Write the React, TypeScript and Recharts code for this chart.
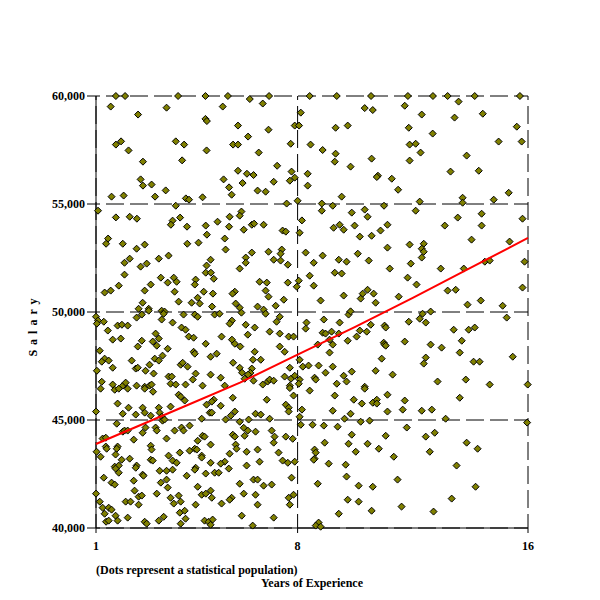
import React from 'react';
import { ScatterChart, Scatter, XAxis, YAxis, CartesianGrid, Label } from 'recharts';

type Pt = [number, number];

// [years of experience, salary]
const juniorStaff: Pt[] = [
  [1.69, 60000], [2.01, 60000], [3.85, 60000], [4.8, 60000], [5.58, 60000],
  [1.51, 59510], [3.45, 59460], [5.4, 59510], [2.46, 59140], [4.8, 58940], [4.85, 58840],
  [1.69, 57750], [1.87, 57900], [3.77, 57900], [4.06, 57750], [5.76, 57750], [2.13, 57480], [4.84, 57480],
  [2.63, 56960], [3.99, 57020], [2.55, 56140], [2.63, 55850], [2.93, 55900], [5.43, 56140], [5.62, 55770], [3.42, 55630],
  [1.54, 55340], [1.96, 55390], [3.05, 55340], [4.12, 55260], [4.23, 55200], [4.7, 55310], [5.71, 55430],
  [1.07, 54690], [3.77, 54920], [1.69, 54380], [2.17, 54410], [2.42, 54320], [3.66, 54230], [3.6, 54040],
  [3.92, 54370], [4.16, 53950], [4.81, 54000], [5.22, 54180], [5.64, 54410], [5.62, 53950], [4.85, 53580],
  [1.42, 53400], [1.35, 53160], [1.93, 53160], [2.69, 53120], [4.17, 53160], [4.56, 53210], [5.47, 53400],
  [2.41, 52930], [5.5, 52890], [3.52, 52610], [2.17, 52470], [1.99, 52280], [3.18, 52470], [2.76, 52240],
  [2.55, 52100], [4.98, 52420], [4.84, 52150],
  [1.99, 51730], [3.25, 51590], [3.49, 51360], [3.7, 51590], [3.8, 51400], [4.46, 51500], [4.43, 51270],
  [4.81, 51820], [4.99, 51820], [5.09, 51540],
  [2.9, 51270], [1.79, 51220], [1.3, 50900], [1.51, 50990], [2.69, 50990], [3.73, 50940], [4.74, 50940],
  [5.06, 50850], [5.82, 50940], [5.74, 50850],
  [2.62, 50430], [3.87, 50480], [4.32, 50430], [4.53, 50660], [4.6, 50390], [5.03, 50250], [5.85, 50390],
  [2.48, 50150], [2.83, 50150], [2.83, 50060], [2.59, 49880], [2.41, 49740], [3.28, 50060], [3.38, 50020],
  [4.04, 49880], [4.43, 49880], [4.53, 49780], [5.12, 49880], [5.29, 49920],
  [5.72, 49600], [5.64, 49460], [1.0, 49780], [1.07, 49600], [1.03, 49460], [1.27, 49550], [1.41, 49140],
  [1.75, 49370], [1.9, 49410], [2.1, 49370],
  [3.35, 49920], [3.28, 49650], [3.66, 49510], [3.97, 49280], [4.11, 49180], [4.22, 48860], [4.39, 48810],
  [3.07, 49000], [3.18, 48770],
  [1.58, 48720], [1.86, 48770], [2.59, 48670], [2.97, 48630], [3.11, 48440], [2.45, 48400], [3.49, 48300],
  [4.81, 48530], [5.36, 48860], [5.72, 48720], [5.82, 48530],
  [1.13, 48210], [4.39, 48160], [4.43, 48070], [4.98, 47930], [5.19, 48070], [3.31, 47980],
  [1.3, 47840], [1.2, 47700], [1.44, 47750], [1.58, 47420], [2.24, 47750], [3.04, 47840], [3.18, 47750],
  [2.86, 47560], [2.38, 47380], [2.45, 47420], [3.94, 47560], [4.01, 47650], [4.18, 47470], [2.72, 47280],
  [3.0, 47150], [3.52, 47010], [3.63, 47010], [4.46, 47150], [4.98, 47100], [5.33, 46960], [5.76, 47650],
  [1.03, 47280], [1.2, 46770], [1.58, 46640], [1.93, 46590], [2.03, 46730], [2.41, 46590], [2.69, 46540],
  [2.86, 46590], [2.93, 46640], [3.59, 46680], [3.77, 46640], [4.11, 46640], [4.36, 46870], [4.7, 46590],
  [5.47, 46590],
  [1.16, 46450], [1.65, 46400], [1.79, 46450], [2.1, 46450], [2.69, 46450], [2.98, 46310],
  [3.87, 46170], [3.94, 46080], [4.08, 45900], [5.09, 45940], [5.02, 45850], [4.84, 45710], [5.75, 46030],
  [1.75, 45760], [2.13, 45570], [1.93, 45290], [2.38, 45250], [2.62, 45570], [2.69, 45340], [2.9, 45200],
  [3.18, 45570], [3.21, 45340], [3.28, 45150], [3.59, 45620], [4.95, 45340], [5.02, 45340], [5.33, 45660],
  [5.82, 45390], [1.0, 45390], [4.67, 45060], [5.5, 45020], [5.68, 45200], [3.31, 44970], [3.38, 45020],
  [1.23, 44140], [1.34, 44180], [1.72, 44830], [1.93, 44460], [1.99, 44510], [2.1, 44510], [2.31, 44090],
  [2.62, 44410], [2.72, 44650], [3.07, 44650], [3.11, 44510], [3.45, 44140], [3.73, 44510], [3.97, 44650],
  [4.04, 44510], [4.25, 44740], [4.53, 44040], [4.7, 44270], [4.77, 44230], [4.98, 43860], [5.75, 44320],
  [5.82, 44230], [5.85, 43860], [5.88, 43670],
  [1.02, 43530], [1.16, 43300], [1.34, 43770], [1.37, 43670], [1.75, 43770], [1.72, 43670], [1.68, 43400],
  [1.89, 43160], [2.17, 43210], [2.9, 43810], [2.93, 43630], [2.9, 43160], [2.97, 43120], [3.52, 43350],
  [3.66, 43120], [3.8, 43020], [3.91, 43490], [4.25, 43580], [4.43, 43670], [4.5, 43630], [4.67, 43350],
  [4.67, 43260], [4.98, 43020], [5.47, 43070], [5.33, 42980], [5.64, 43440],
  [1.65, 42840], [1.79, 42890], [1.68, 42750], [1.79, 42560], [2.41, 42890], [2.38, 42790], [2.62, 42470],
  [2.65, 42420], [3.21, 42650], [3.45, 42650], [3.66, 42700], [4.15, 42420], [4.46, 42790], [4.43, 42700],
  [4.81, 42520], [5.12, 42560], [5.26, 42560], [5.61, 42750],
  [2.31, 42190], [1.27, 42330], [1.54, 42100], [1.65, 42010], [3.25, 42100], [3.45, 42240], [3.49, 41870],
  [4.53, 41910],
  [1.0, 41590], [2.34, 41730], [3.11, 41590], [2.48, 41450], [2.59, 41500], [3.59, 41400], [3.87, 41500],
  [4.67, 41540], [4.81, 41590], [4.98, 41730], [5.02, 41400],
  [1.13, 41220], [1.23, 40940], [1.44, 40940], [1.54, 40850], [1.3, 40660], [2.03, 41220], [2.2, 41220],
  [2.48, 41080], [3.7, 41130], [3.94, 41220], [4.46, 41080], [5.36, 41130], [5.71, 41400], [5.64, 41310],
  [1.68, 40570], [1.75, 40340], [1.35, 40290], [1.44, 40340], [2.1, 40480], [2.69, 40290], [2.76, 40200],
  [3.18, 40340], [3.35, 40520], [3.91, 40710], [4.08, 40800], [4.11, 40430], [3.94, 40200], [4.77, 40340],
  [4.91, 40290], [4.98, 40150], [5.05, 40390],
];

const midStaff: Pt[] = [
  [7.01, 60000], [6.34, 59860], [6.79, 59650], [8.42, 60000], [9.36, 60000], [10.55, 60000],
  [8.11, 59230], [10.33, 59440], [10.61, 59350],
  [5.93, 58630], [6.99, 58440], [7.9, 58630], [8.05, 58630], [9.32, 58530], [9.74, 58630],
  [6.28, 58120], [5.93, 57750], [7.76, 57790], [8.45, 57750], [8.87, 57500], [6.65, 57380], [9.32, 57330],
  [10.57, 57100], [9.29, 56960],
  [7.29, 56770], [9.84, 56730], [5.93, 56540], [6.24, 56400], [6.47, 56340], [7.79, 56500], [8.35, 56400],
  [6.09, 55970], [7.17, 56030], [7.73, 56080], [7.9, 56220], [10.79, 56310], [10.75, 56250],
  [8.35, 55850], [6.61, 55620], [6.89, 55570], [9.53, 55340], [8.0, 55150], [7.62, 55020], [8.84, 55020],
  [9.22, 54920], [11.0, 54920],
  [6.05, 54650], [5.99, 54460], [8.84, 54690], [9.88, 54600], [10.33, 54740], [10.43, 54410],
  [8.15, 54240], [6.41, 54040], [6.49, 54090], [6.82, 54040], [6.13, 53810], [7.48, 53770], [7.59, 53720],
  [8.07, 53670], [9.25, 53900], [9.46, 54040], [9.6, 53810], [9.98, 54000], [10.88, 53770], [11.12, 54040],
  [10.16, 53490], [10.57, 53530],
  [11.12, 52980], [6.41, 52750], [6.99, 52790], [7.45, 52890], [7.41, 52700], [8.28, 52750], [8.87, 52610],
  [10.09, 52700],
  [6.2, 52520], [6.2, 52280], [7.17, 52420], [7.41, 52380], [7.66, 52190], [8.56, 52280], [9.43, 52420],
  [9.7, 52330], [10.47, 52380],
  [5.99, 52010], [9.29, 51820], [9.53, 51780], [8.42, 51680], [6.68, 51400], [6.93, 51360], [7.66, 51360],
  [8.04, 51450], [7.97, 51170], [8.56, 51220],
  [6.89, 50990], [6.99, 50710], [7.52, 50570], [8.8, 50530], [9.6, 50760], [10.19, 50620], [10.26, 50850],
  [10.43, 51030], [10.64, 50850], [10.71, 50430],
  [5.99, 50200], [6.05, 49970], [6.61, 50250], [6.82, 50110], [6.89, 49920], [7.24, 50290], [7.38, 49780],
  [7.27, 49550], [8.91, 49650], [9.77, 49880], [9.84, 50030],
  [8.31, 49510], [8.28, 49230], [6.2, 49410], [6.51, 49280], [7.03, 49090], [7.38, 49000], [7.69, 48860],
  [7.86, 48860], [8.87, 49040], [8.97, 49000], [9.18, 49090], [9.46, 49510], [9.43, 49000], [10.16, 49140],
  [10.4, 49090], [10.54, 49410], [11.02, 49370], [11.06, 49280],
  [6.27, 48950], [8.7, 48490], [9.11, 48720], [9.22, 48490], [9.74, 48670], [10.05, 48860],
  [6.01, 48400], [7.38, 48400], [7.55, 48160], [6.51, 48160], [9.11, 48120], [10.99, 48580], [11.02, 48490],
  [11.06, 48440],
  [6.45, 47790], [6.72, 47790], [8.07, 47790], [8.18, 47470], [8.38, 47520], [8.73, 47520], [9.22, 47470],
  [9.88, 47240], [10.71, 47280], [10.92, 47840],
  [5.99, 47420], [6.07, 47190], [6.41, 47380], [6.36, 47180], [6.28, 47100], [7.73, 47420], [7.55, 47010],
  [7.77, 46910], [7.9, 47050],
  [6.16, 46910], [6.47, 46820], [6.79, 46640], [6.96, 46780], [7.03, 46870], [7.17, 46820], [7.73, 46590],
  [8.07, 46870], [8.04, 46680], [8.59, 46960], [8.63, 46870], [8.97, 47190], [9.36, 46680], [9.6, 47050],
  [9.7, 46780], [10.33, 46540],
  [7.73, 46480], [8.42, 46360], [7.86, 46130], [9.29, 46130], [10.33, 46450], [11.12, 46170],
  [6.93, 45940], [7.59, 45710], [7.69, 45570], [7.69, 45390], [9.95, 45940], [10.23, 45760], [10.61, 45800],
  [10.75, 45940], [10.75, 45760], [11.12, 45390],
  [8.15, 45480], [9.22, 45430], [9.84, 45290], [6.54, 45290], [6.72, 45250], [7.03, 45060], [5.99, 44920],
  [6.3, 45020], [8.07, 45150],
  [8.11, 44780], [8.52, 44780], [8.91, 44740], [9.39, 44690], [9.63, 45060], [10.19, 44920], [10.5, 44970],
  [6.13, 44640], [6.27, 44510], [6.54, 44460], [7.1, 44510], [6.16, 44270], [7.2, 44230], [7.59, 44230],
  [7.83, 44130], [7.17, 43950],
  [6.23, 43530], [6.61, 43630], [7.34, 43490], [8.59, 43630], [8.63, 43490], [8.94, 43950], [9.88, 44320],
  [9.77, 43900], [10.02, 43530], [10.43, 43900], [10.82, 43670], [11.06, 44270],
  [6.68, 43070], [6.23, 42890], [7.48, 43120], [7.66, 43020], [7.9, 43070], [8.59, 43210], [8.56, 43160],
  [9.08, 42980], [9.67, 42930],
  [7.79, 42330], [6.47, 42240], [6.61, 42240], [6.82, 41960], [7.1, 42010], [5.99, 42050], [8.7, 42050],
  [9.7, 42380], [10.12, 41960], [10.61, 41910],
  [6.13, 41590], [6.54, 41540], [7.69, 41400], [7.86, 41540], [6.61, 41080], [7.73, 41080], [9.74, 41310],
  [10.12, 41220],
  [6.06, 40570], [7.17, 40480], [9.43, 40660], [10.57, 40800],
  [6.44, 40110], [8.73, 40250], [8.63, 40110], [8.8, 40060],
];

const seniorStaff: Pt[] = [
  [11.83, 60000], [12.7, 60000], [13.21, 60000], [14.15, 60000], [15.72, 60000],
  [13.59, 59740], [11.72, 59550], [12.31, 59140], [13.45, 59000], [14.43, 59180],
  [11.86, 58530], [12.69, 58260], [15.61, 58580],
  [11.89, 57750], [12.1, 57790], [12.27, 57380], [14.98, 57890], [15.78, 57890],
  [11.89, 57010], [13.87, 57240],
  [11.27, 56170], [13.31, 56500], [14.29, 56540],
  [11.49, 55660], [15.33, 55520], [13.73, 55290], [13.73, 55060], [14.81, 55200], [12.24, 55110],
  [12.1, 54690], [13.56, 54370], [14.39, 54550], [15.81, 54320], [13.11, 54000], [14.39, 54000],
  [14.04, 53350], [11.89, 53120], [12.38, 53160], [12.31, 52930], [12.38, 52790], [15.36, 53260],
  [12.31, 52520], [11.93, 52240], [11.2, 52010], [12.97, 52010], [13.77, 52010], [14.5, 52330],
  [14.67, 52380], [15.88, 52330],
  [11.82, 51590], [12.13, 51270], [13.21, 50990], [13.49, 51030], [15.81, 51130],
  [11.51, 50710], [14.36, 50530], [13.9, 50340], [15.12, 50290],
  [12.34, 49920], [12.62, 50020], [12.24, 49690], [12.45, 49510], [11.86, 49550], [15.26, 49740],
  [13.42, 49180], [13.94, 49180], [14.15, 49280],
  [11.72, 48630], [12.62, 48490], [13.0, 48350], [13.7, 48670], [13.63, 48120],
  [12.45, 47890], [12.38, 47610], [14.11, 47700], [14.32, 47700], [15.47, 47930],
  [11.3, 47100], [12.86, 46780], [13.84, 46870], [14.67, 46640], [15.99, 46640],
  [11.72, 45900], [11.65, 45480], [12.31, 45430], [12.66, 45480], [13.63, 46030], [13.14, 45060],
  [15.97, 44880],
  [11.79, 44650], [12.45, 44230], [12.76, 44410], [13.87, 43950], [14.25, 43670], [11.34, 43300],
  [12.59, 43530], [13.52, 42890],
  [11.47, 42240], [14.18, 41910], [13.35, 41360], [11.61, 40990], [12.72, 40760],
];

// fitted trend (red curve), read at a few points
const trendYears = [1, 4, 6, 8, 10, 12, 14, 16];
const trendSalary = [43890, 45590, 46730, 48030, 49310, 50650, 52040, 53430];

const yearTicks = [1, 8, 16];
const salaryTicks = [40000, 45000, 50000, 55000, 60000];

const population = [...juniorStaff, ...midStaff, ...seniorStaff].map(([years, salary]) => ({ years, salary }));
const trend = trendYears.map((years, i) => ({ years, salary: trendSalary[i] }));

const font = "'Liberation Serif', 'Times New Roman', serif";
const tickStyle = { fill: '#000', fontSize: 12, fontWeight: 700, fontFamily: font };

const Diamond = (props: any) => {
  const { cx, cy } = props;
  if (cx == null || cy == null) return <g />;
  const r = 3.5;
  return (
    <polygon
      points={`${cx},${cy - r} ${cx + r},${cy} ${cx},${cy + r} ${cx - r},${cy}`}
      fill="#808000"
      stroke="#000"
      strokeWidth={1}
    />
  );
};

const NoDot = () => <g />;

const XAxisNotes = (props: any) => {
  const vb = props.viewBox || { x: 96, y: 528, width: 432 };
  return (
    <g fontFamily={font} fontSize={12} fontWeight={700} fill="#000">
      <text x={vb.x} y={vb.y + 46}>(Dots represent a statistical population)</text>
      <text x={vb.x + vb.width / 2} y={vb.y + 59} textAnchor="middle">Years of Experience</text>
    </g>
  );
};

const SalaryLabel = (props: any) => {
  const vb = props.viewBox || { x: 0, y: 96 };
  return (
    <text
      transform={`translate(${vb.x + 37}, ${vb.y + 231}) rotate(-90)`}
      textAnchor="middle"
      fontFamily={font}
      fontSize={12}
      fontWeight={700}
      letterSpacing={1}
      fill="#000"
    >
      S a l a r y
    </text>
  );
};

export default function App() {
  return (
    <div style={{ position: 'absolute', left: 0, top: 0, width: 600, height: 600, background: '#fff' }}>
      <ScatterChart width={600} height={600} margin={{ top: 96, right: 72, bottom: 0, left: 0 }}>
        <CartesianGrid stroke="#000" strokeDasharray="18 6" strokeDashoffset={14} />
        <XAxis
          type="number"
          dataKey="years"
          domain={[1, 16]}
          ticks={yearTicks}
          interval={0}
          height={72}
          tickSize={5}
          tickMargin={8}
          axisLine={{ stroke: '#000' }}
          tickLine={{ stroke: '#000' }}
          tick={tickStyle}
        >
          <Label content={XAxisNotes} />
        </XAxis>
        <YAxis
          type="number"
          dataKey="salary"
          domain={[40000, 60000]}
          ticks={salaryTicks}
          interval={0}
          width={96}
          tickSize={9}
          tickMargin={2}
          axisLine={{ stroke: '#000' }}
          tickLine={{ stroke: '#000' }}
          tick={tickStyle}
          tickFormatter={(v: number) => v.toLocaleString('en-US')}
        >
          <Label content={SalaryLabel} />
        </YAxis>
        <Scatter data={population} shape={Diamond} isAnimationActive={false} />
        <Scatter
          data={trend}
          shape={NoDot}
          line={{ stroke: '#ff0000', strokeWidth: 2 }}
          isAnimationActive={false}
        />
      </ScatterChart>
    </div>
  );
}
